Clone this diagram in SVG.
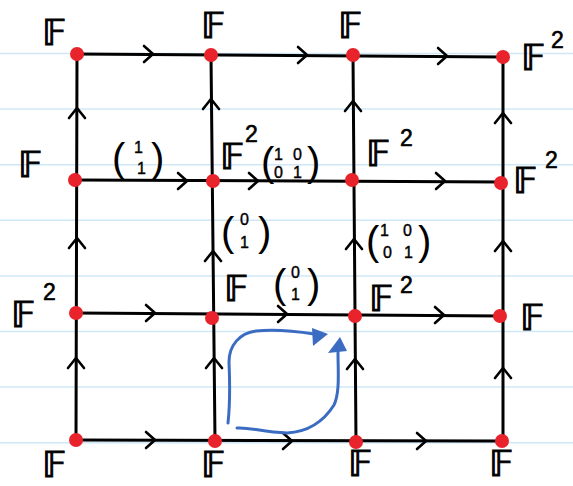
<svg xmlns="http://www.w3.org/2000/svg" width="573" height="486" viewBox="0 0 573 486">
<style>
.rule{stroke:#cfe8f7;stroke-width:1.5}
.edge{stroke:#000;stroke-width:3;fill:none;stroke-linecap:round}
.chev{stroke:#000;stroke-width:2.6;fill:none;stroke-linecap:round;stroke-linejoin:round}
.dot{fill:#e8232b}
.lbl{font-family:"DejaVu Sans",sans-serif;font-size:36px;fill:#000;stroke:#000;stroke-width:1}
.sup{font-family:"Liberation Sans",sans-serif;font-size:23px;fill:#000;stroke:#000;stroke-width:0.6}
.par{font-family:"Liberation Sans",sans-serif;font-size:40px;fill:#000}
.dig{font-family:"Liberation Sans",sans-serif;font-size:16px;fill:#000;stroke:#000;stroke-width:0.4}
.blue{stroke:#3b6cc2;stroke-width:3;fill:none;stroke-linecap:round}
.bluehead{fill:#3b6cc2}
</style>
<defs>
<path id="cr" d="M-9,-8 L0,0 L-9,8"/>
<path id="cu" d="M-8,10 L0,0 L8,10"/>
</defs>
<rect width="573" height="486" fill="#fff"/>
<g id="paper">
<line class="rule" x1="0" y1="53.5" x2="573" y2="53.5"/>
<line class="rule" x1="0" y1="109" x2="573" y2="109"/>
<line class="rule" x1="0" y1="164.7" x2="573" y2="164.7"/>
<line class="rule" x1="0" y1="220.3" x2="573" y2="220.3"/>
<line class="rule" x1="0" y1="276" x2="573" y2="276"/>
<line class="rule" x1="0" y1="331.5" x2="573" y2="331.5"/>
<line class="rule" x1="0" y1="387" x2="573" y2="387"/>
<line class="rule" x1="0" y1="442.7" x2="573" y2="442.7"/>
</g>
<g id="connectors">
<line class="edge" x1="77" y1="54" x2="503" y2="57"/>
<line class="edge" x1="76" y1="180" x2="502" y2="182"/>
<line class="edge" x1="76" y1="313" x2="501" y2="316"/>
<line class="edge" x1="76" y1="440" x2="502" y2="441"/>
<line class="edge" x1="77" y1="54" x2="76" y2="440"/>
<line class="edge" x1="211" y1="55" x2="215" y2="441"/>
<line class="edge" x1="353" y1="55" x2="356" y2="442"/>
<line class="edge" x1="503" y1="57" x2="503" y2="441"/>
<use href="#cr" class="chev" x="153" y="54"/>
<use href="#cr" class="chev" x="307" y="55"/>
<use href="#cr" class="chev" x="447" y="56"/>
<use href="#cr" class="chev" x="187" y="181"/>
<use href="#cr" class="chev" x="258" y="181"/>
<use href="#cr" class="chev" x="445" y="181"/>
<use href="#cr" class="chev" x="155" y="313"/>
<use href="#cr" class="chev" x="287" y="314"/>
<use href="#cr" class="chev" x="444" y="315"/>
<use href="#cr" class="chev" x="155" y="440"/>
<use href="#cr" class="chev" x="292" y="441"/>
<use href="#cr" class="chev" x="426" y="441"/>
<use href="#cu" class="chev" x="77" y="108"/>
<use href="#cu" class="chev" x="211" y="99"/>
<use href="#cu" class="chev" x="353" y="101"/>
<use href="#cu" class="chev" x="503" y="113"/>
<use href="#cu" class="chev" x="77" y="238"/>
<use href="#cu" class="chev" x="213" y="251"/>
<use href="#cu" class="chev" x="354" y="239"/>
<use href="#cu" class="chev" x="503" y="241"/>
<use href="#cu" class="chev" x="76" y="358"/>
<use href="#cu" class="chev" x="214" y="358"/>
<use href="#cu" class="chev" x="355" y="359"/>
<use href="#cu" class="chev" x="503" y="368"/>
<g id="edge-labels">
<text class="par" x="112" y="172">(</text><text class="dig" x="134" y="153">1</text><text class="dig" x="137" y="174">1</text><text class="par" x="151" y="172">)</text>
<text class="par" x="261" y="176" font-size="32">(</text><text class="dig" x="274" y="160" font-size="13">1</text><text class="dig" x="293" y="160" font-size="13">0</text><text class="dig" x="274" y="178" font-size="13">0</text><text class="dig" x="293" y="178" font-size="13">1</text><text class="par" x="307" y="176" font-size="32">)</text>
<text class="par" x="221" y="246">(</text><text class="dig" x="240" y="225">0</text><text class="dig" x="240" y="248">1</text><text class="par" x="258" y="246">)</text>
<text class="par" x="366" y="255">(</text><text class="dig" x="380" y="236">1</text><text class="dig" x="403" y="236">0</text><text class="dig" x="383" y="258">0</text><text class="dig" x="404" y="258">1</text><text class="par" x="418" y="255">)</text>
<text class="par" x="273" y="298">(</text><text class="dig" x="291" y="278">0</text><text class="dig" x="291" y="300">1</text><text class="par" x="307" y="298">)</text>
</g>
</g>
<g id="node-r1c1"><circle class="dot" cx="77" cy="54" r="7"/><text class="lbl" x="42" y="45">𝔽</text></g>
<g id="node-r1c2"><circle class="dot" cx="211" cy="55" r="7"/><text class="lbl" x="201" y="38">𝔽</text></g>
<g id="node-r1c3"><circle class="dot" cx="353" cy="55" r="7"/><text class="lbl" x="338" y="38">𝔽</text></g>
<g id="node-r1c4"><circle class="dot" cx="503" cy="57" r="7"/><text class="lbl" x="521" y="70">𝔽</text><text class="sup" x="551" y="48">2</text></g>
<g id="node-r2c1"><circle class="dot" cx="75" cy="180" r="7"/><text class="lbl" x="18" y="177">𝔽</text></g>
<g id="node-r2c2"><circle class="dot" cx="213" cy="181" r="7"/><text class="lbl" x="220" y="169">𝔽</text><text class="sup" x="245" y="142">2</text></g>
<g id="node-r2c3"><circle class="dot" cx="352" cy="180" r="7"/><text class="lbl" x="366" y="166">𝔽</text><text class="sup" x="400" y="146">2</text></g>
<g id="node-r2c4"><circle class="dot" cx="501" cy="183" r="7"/><text class="lbl" x="513" y="193">𝔽</text><text class="sup" x="545" y="168">2</text></g>
<g id="node-r3c1"><circle class="dot" cx="76" cy="313" r="7"/><text class="lbl" x="11" y="327">𝔽</text><text class="sup" x="43" y="300">2</text></g>
<g id="node-r3c2"><circle class="dot" cx="212" cy="318" r="7"/><text class="lbl" x="224" y="301">𝔽</text></g>
<g id="node-r3c3"><circle class="dot" cx="355" cy="316" r="7"/><text class="lbl" x="369" y="311">𝔽</text><text class="sup" x="400" y="293">2</text></g>
<g id="node-r3c4"><circle class="dot" cx="500" cy="316" r="7"/><text class="lbl" x="520" y="330">𝔽</text></g>
<g id="node-r4c1"><circle class="dot" cx="76" cy="440" r="7"/><text class="lbl" x="42" y="477">𝔽</text></g>
<g id="node-r4c2"><circle class="dot" cx="215" cy="441" r="7"/><text class="lbl" x="201" y="477">𝔽</text></g>
<g id="node-r4c3"><circle class="dot" cx="356" cy="442" r="7"/><text class="lbl" x="348" y="476">𝔽</text></g>
<g id="node-r4c4"><circle class="dot" cx="502" cy="441" r="7"/><text class="lbl" x="489" y="476">𝔽</text></g>
<g id="loop">
<path class="blue" d="M228,423 C230,405 230,385 229,362 C229,345 240,333 256,331 C275,329 295,331 314,334"/>
<polygon class="bluehead" points="312,328 328,334 313,346"/>
<path class="blue" d="M237,428 C250,427 262,432 287,433 C305,432 322,424 334,405 C340,392 338,372 338,352"/>
<polygon class="bluehead" points="328,353 340,337 347,351"/>
</g>
</svg>
